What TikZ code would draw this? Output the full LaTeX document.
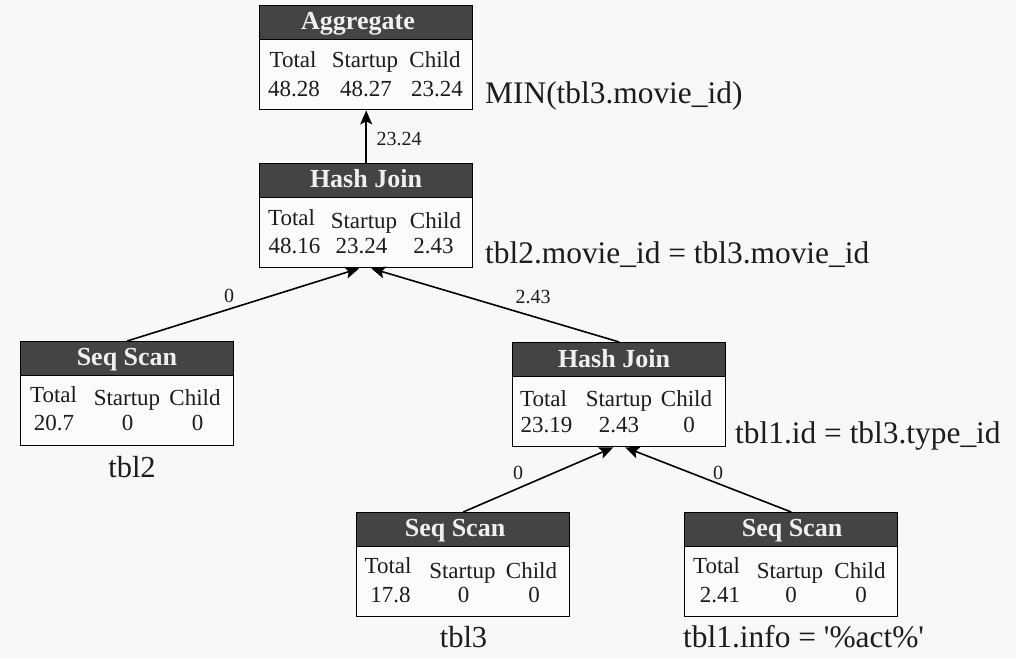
\documentclass[tikz,border=0pt]{standalone}
\usepackage{fontspec}
\setmainfont{Liberation Serif}
\usetikzlibrary{arrows.meta}
\definecolor{pagebg}{RGB}{248,248,248}
\definecolor{boxbg}{RGB}{251,251,251}
\definecolor{hdrgray}{RGB}{68,68,68}
\definecolor{ink}{RGB}{28,28,28}
\begin{document}
\begin{tikzpicture}[x=1pt,y=-1pt,
 planbox/.style={draw=black, line width=1.4pt, fill=boxbg, inner sep=0pt, anchor=north west, minimum width=213pt, minimum height=104pt},
 planhdr/.style={draw=black, line width=1.4pt, fill=hdrgray, inner sep=0pt, anchor=north west, minimum width=213pt, minimum height=34pt},
 hdrtext/.style={anchor=base, text=white!94!black, font=\fontsize{26}{28}\selectfont\bfseries, inner sep=0pt},
 celltext/.style={anchor=base, text=ink, font=\fontsize{23}{26}\selectfont, inner sep=0pt},
 annot/.style={anchor=base west, text=ink, font=\fontsize{31.4}{34}\selectfont, inner sep=0pt},
 undertext/.style={anchor=base, text=ink, font=\fontsize{30.5}{33}\selectfont, inner sep=0pt},
 edgelabel/.style={anchor=base, text=ink, font=\fontsize{20}{22}\selectfont, inner sep=0pt},
 flow/.style={draw=black, line width=1.6pt, -{Stealth[length=14pt,width=12pt,inset=3pt]}}
]
\fill[pagebg] (0,0) rectangle (1016,658);
\useasboundingbox (0,0) rectangle (1016,658);

% Aggregate
\node[planbox] (agg) at (259,5) {};
\node[planhdr] (aggh) at (agg.north west) {};
\node[hdrtext] (aggt) at (358,30) {Aggregate};
\node[celltext] (agg11) at (293,68) {Total};
\node[celltext] (agg12) at (365,68) {Startup};
\node[celltext] (agg13) at (435,68) {Child};
\node[celltext] (agg21) at (294,97) {48.28};
\node[celltext] (agg22) at (366,97) {48.27};
\node[celltext] (agg23) at (437,97) {23.24};
\node[annot] (aggc) at (485,104) {MIN(tbl3.movie\_id)};

% Hash Join 1
\node[planbox] (hja) at (259,163) {};
\node[planhdr] (hjah) at (hja.north west) {};
\node[hdrtext] (hjat) at (366,187) {Hash Join};
\node[celltext] (hja11) at (291.5,225) {Total};
\node[celltext] (hja12) at (364,228) {Startup};
\node[celltext] (hja13) at (435.5,228) {Child};
\node[celltext] (hja21) at (294.5,253) {48.16};
\node[celltext] (hja22) at (361.5,253) {23.24};
\node[celltext] (hja23) at (433.5,253) {2.43};
\node[annot] (hjac) at (485,263) {tbl2.movie\_id = tbl3.movie\_id};

% Seq Scan tbl2
\node[planbox] (ssa) at (20,341) {};
\node[planhdr] (ssah) at (ssa.north west) {};
\node[hdrtext] (ssat) at (127,365) {Seq Scan};
\node[celltext] (ssa11) at (53.5,402) {Total};
\node[celltext] (ssa12) at (127,405) {Startup};
\node[celltext] (ssa13) at (195,405) {Child};
\node[celltext] (ssa21) at (54,430) {20.7};
\node[celltext] (ssa22) at (127.5,430) {0};
\node[celltext] (ssa23) at (197.5,430) {0};
\node[undertext] (ssac) at (132,477) {tbl2};

% Hash Join 2
\node[planbox] (hjb) at (512,342) {};
\node[planhdr] (hjbh) at (hjb.north west) {};
\node[hdrtext] (hjbt) at (614,367) {Hash Join};
\node[celltext] (hjb11) at (543.5,406) {Total};
\node[celltext] (hjb12) at (619,406) {Startup};
\node[celltext] (hjb13) at (686.5,406) {Child};
\node[celltext] (hjb21) at (546.5,432) {23.19};
\node[celltext] (hjb22) at (619,432) {2.43};
\node[celltext] (hjb23) at (689,432) {0};
\node[annot] (hjbc) at (735,443) {tbl1.id = tbl3.type\_id};

% Seq Scan tbl3
\node[planbox] (ssb) at (356,512) {};
\node[planhdr] (ssbh) at (ssb.north west) {};
\node[hdrtext] (ssbt) at (455,536) {Seq Scan};
\node[celltext] (ssb11) at (388,573) {Total};
\node[celltext] (ssb12) at (462.5,578) {Startup};
\node[celltext] (ssb13) at (531.5,578) {Child};
\node[celltext] (ssb21) at (390.5,602) {17.8};
\node[celltext] (ssb22) at (463.5,602) {0};
\node[celltext] (ssb23) at (534,602) {0};
\node[undertext] (ssbc) at (463.5,647) {tbl3};

% Seq Scan tbl1
\node[planbox] (ssc) at (684,512) {};
\node[planhdr] (ssch) at (ssc.north west) {};
\node[hdrtext] (ssct) at (792,536) {Seq Scan};
\node[celltext] (ssc11) at (716.5,573) {Total};
\node[celltext] (ssc12) at (790,578) {Startup};
\node[celltext] (ssc13) at (860,578) {Child};
\node[celltext] (ssc21) at (720,602) {2.41};
\node[celltext] (ssc22) at (791,602) {0};
\node[celltext] (ssc23) at (861,602) {0};
\node[annot] (sscc) at (683,647) {tbl1.info = \textquotesingle\%act\%\textquotesingle};

% connectors
\draw[flow] (hja.north) -- (agg.south);
\draw[flow] (ssa.north) -- ([xshift=-7pt]hja.south);
\draw[flow] (hjb.north) -- ([xshift=5pt]hja.south);
\draw[flow] (ssb.north) -- ([xshift=-6pt]hjb.south);
\draw[flow] (ssc.north) -- ([xshift=6pt]hjb.south);

% edge labels
\node[edgelabel] (e1) at (399,145) {23.24};
\node[edgelabel] (e2) at (229,302) {0};
\node[edgelabel] (e3) at (533,303) {2.43};
\node[edgelabel] (e4) at (518,479) {0};
\node[edgelabel] (e5) at (718,479) {0};
\end{tikzpicture}
\end{document}
